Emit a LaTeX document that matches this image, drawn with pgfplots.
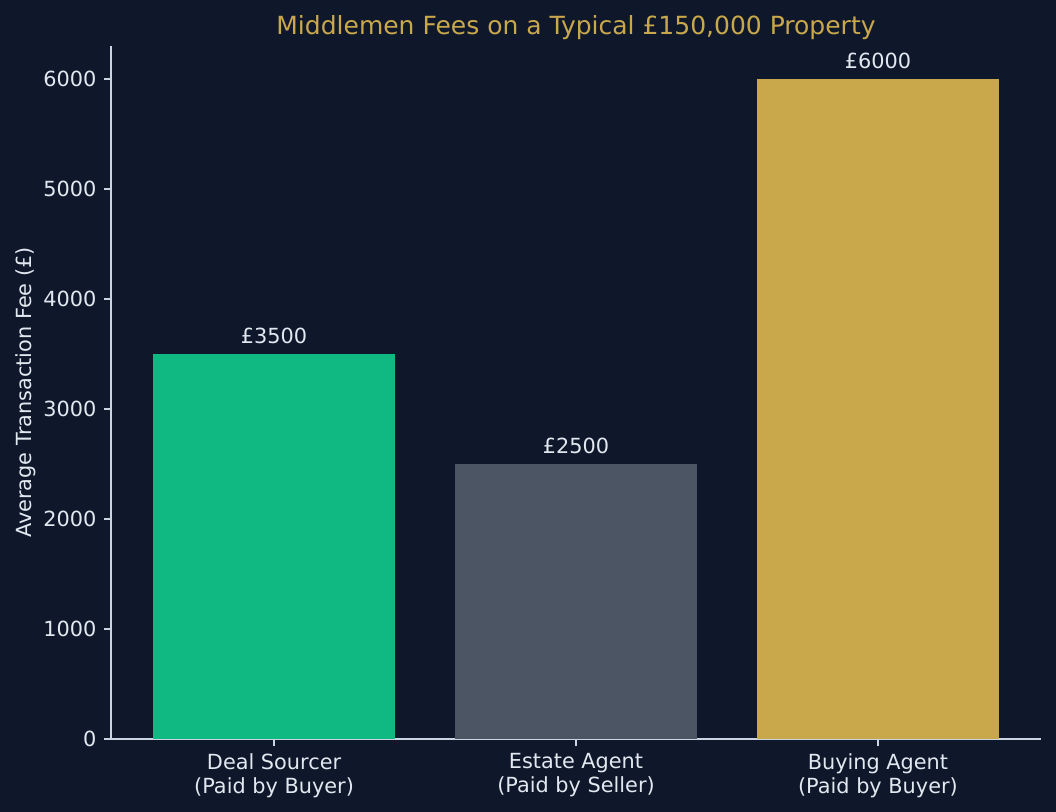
\documentclass[border=0pt]{standalone}
\usepackage{pgfplots}
\pgfplotsset{compat=1.18}
\usepackage{fontspec}
\setmainfont{DejaVu Sans}
\definecolor{bg}{HTML}{0F172A}
\definecolor{txt}{HTML}{E2E8F0}
\definecolor{spine}{HTML}{CBD5E1}
\definecolor{gold}{HTML}{C9A84C}
\definecolor{green}{HTML}{10B981}
\definecolor{slate}{HTML}{4B5563}
\begin{document}
\begin{tikzpicture}
\path[use as bounding box, fill=bg] (0,0) rectangle (506.88pt,389.76pt);
\begin{axis}[
  at={(53.28pt,35.04pt)}, anchor=south west,
  scale only axis, width=446.4pt, height=332.64pt,
  xmin=-0.54, xmax=2.54, ymin=0, ymax=6300,
  axis x line*=bottom, axis y line*=left,
  axis line style={spine, line width=0.8pt, -},
  xtick={0,1,2},
  xticklabels={{Deal Sourcer\\(Paid by Buyer)},{Estate Agent\\(Paid by Seller)},{Buying Agent\\(Paid by Buyer)}},
  xticklabel style={align=center, font=\fontsize{10}{11.5}\selectfont, text=txt},
  ytick={0,1000,2000,3000,4000,5000,6000},
  yticklabel style={font=\fontsize{10}{12}\selectfont, text=txt},
  /pgf/number format/assume math mode=true,
  /pgf/number format/1000 sep={},
  tick style={spine, line width=0.8pt},
  tick align=outside, major tick length=3.5pt,
  ylabel={Average Transaction Fee (£)},
  ylabel style={font=\fontsize{10}{12}\selectfont, text=txt, yshift=-3.4pt},
  title={Middlemen Fees on a Typical £150,000 Property},
  title style={font=\fontsize{12}{14}\selectfont, text=gold, yshift=-6.3pt},
  ybar, bar width=0.8, bar shift=0pt,
  nodes near coords={£\pgfmathprintnumber[1000 sep={},assume math mode=true]{\pgfplotspointmeta}},
  nodes near coords style={font=\fontsize{10}{12}\selectfont, text=txt, anchor=south, yshift=1.3pt},
]
\addplot[fill=green, draw=none] coordinates {(0,3500)};
\addplot[fill=slate, draw=none] coordinates {(1,2500)};
\addplot[fill=gold, draw=none] coordinates {(2,6000)};
\end{axis}
\end{tikzpicture}
\end{document}
